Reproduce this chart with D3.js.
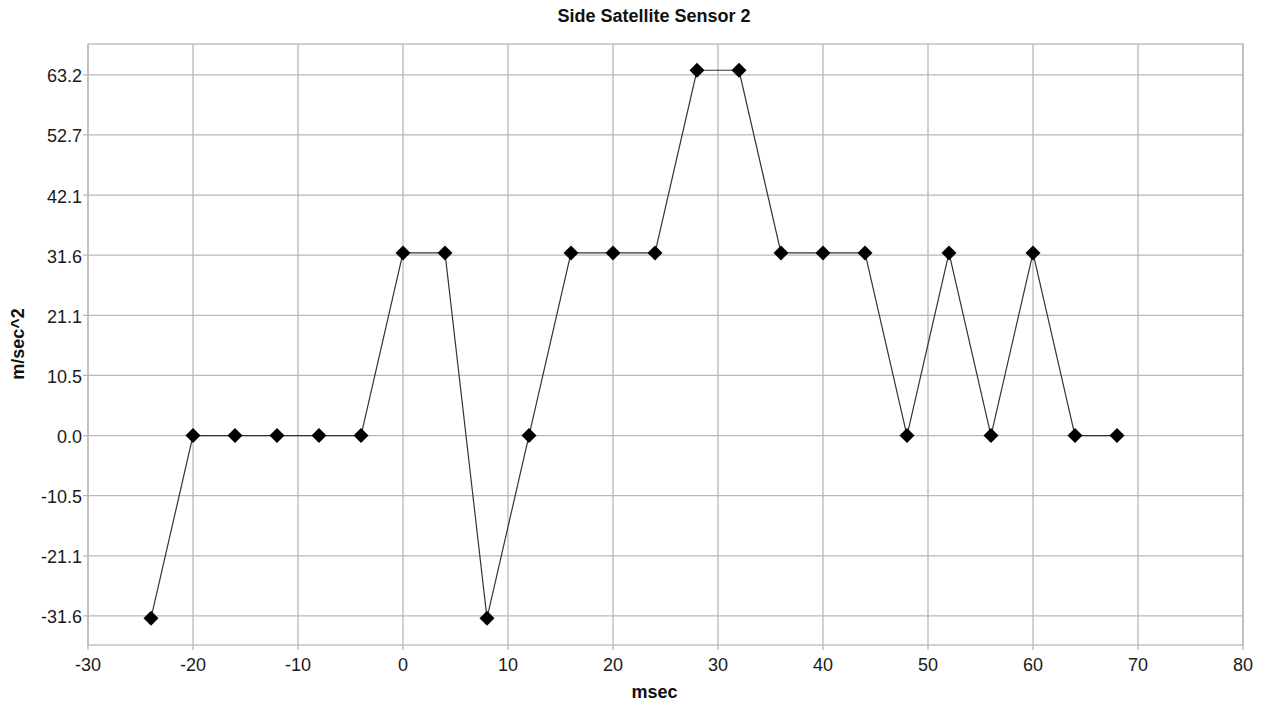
<!DOCTYPE html>
<html><head><meta charset="utf-8">
<script src="https://cdn.jsdelivr.net/npm/d3@7"></script>
<style>body{margin:0;background:#fff;} text{font-family:"Liberation Sans",Arial,sans-serif;}</style>
</head><body>
<svg id="c" width="1261" height="708"></svg>
<script>
const xValues = [-24,-20,-16,-12,-8,-4,0,4,8,12,16,20,24,28,32,36,40,44,48,52,56,60,64,68];
const yValues = [-32,0,0,0,0,0,32,32,-32,0,32,32,32,64,64,32,32,32,0,32,0,32,0,0];
const xTicks = [-30,-20,-10,0,10,20,30,40,50,60,70,80];
const yTicks = [-31.6,-21.07,-10.53,0.0,10.53,21.07,31.6,42.13,52.67,63.2];
const yTickLabels = ["-31.6","-21.1","-10.5","0.0","10.5","21.1","31.6","42.1","52.7","63.2"];

const svg = d3.select("#c");
const L=88, R=1243, T=44, B=645;
const x = d3.scaleLinear().domain([-30,80]).range([L,R]);
const y = d3.scaleLinear().domain([-36.7,68.6]).range([B,T]);
const grid="#b8b8b8";

// gridlines
svg.append("g").selectAll("line").data(xTicks).join("line")
  .attr("x1",d=>x(d)).attr("x2",d=>x(d)).attr("y1",T).attr("y2",B+5)
  .attr("stroke",grid).attr("stroke-width",1.3);
svg.append("g").selectAll("line").data(yTicks).join("line")
  .attr("x1",L-5).attr("x2",R).attr("y1",d=>y(d)).attr("y2",d=>y(d))
  .attr("stroke",grid).attr("stroke-width",1.3);
svg.append("rect").attr("x",L).attr("y",T).attr("width",R-L).attr("height",B-T)
  .attr("fill","none").attr("stroke",grid).attr("stroke-width",1.3);

// tick labels
svg.append("g").selectAll("text").data(xTicks).join("text")
  .attr("x",d=>x(d)).attr("y",671).attr("text-anchor","middle")
  .attr("font-size",18).attr("fill","#1a1a1a").text(d=>d);
svg.append("g").selectAll("text").data(yTicks).join("text")
  .attr("x",82).attr("y",d=>y(d)+7.5).attr("text-anchor","end")
  .attr("font-size",18).attr("fill","#1a1a1a").text((d,i)=>yTickLabels[i]);

// titles
svg.append("text").attr("x",654).attr("y",22).attr("text-anchor","middle")
  .attr("font-size",18).attr("font-weight","bold").attr("fill","#111").text("Side Satellite Sensor 2");
svg.append("text").attr("x",654.5).attr("y",698).attr("text-anchor","middle")
  .attr("font-size",18).attr("font-weight","bold").attr("fill","#111").text("msec");
svg.append("text").attr("transform","translate(24,344) rotate(-90)").attr("text-anchor","middle")
  .attr("font-size",18).attr("font-weight","bold").attr("fill","#111").text("m/sec^2");

// line
const pts = xValues.map((d,i)=>[d,yValues[i]]);
svg.append("path").datum(pts)
  .attr("d",d3.line().x(d=>x(d[0])).y(d=>y(d[1])))
  .attr("fill","none").attr("stroke","#333").attr("stroke-width",1.2);

// markers
svg.append("g").selectAll("path").data(pts).join("path")
  .attr("transform",d=>`translate(${x(d[0])},${y(d[1])})`)
  .attr("d","M0,-7.5L7.5,0L0,7.5L-7.5,0Z").attr("fill","#000");
</script>
</body></html>
